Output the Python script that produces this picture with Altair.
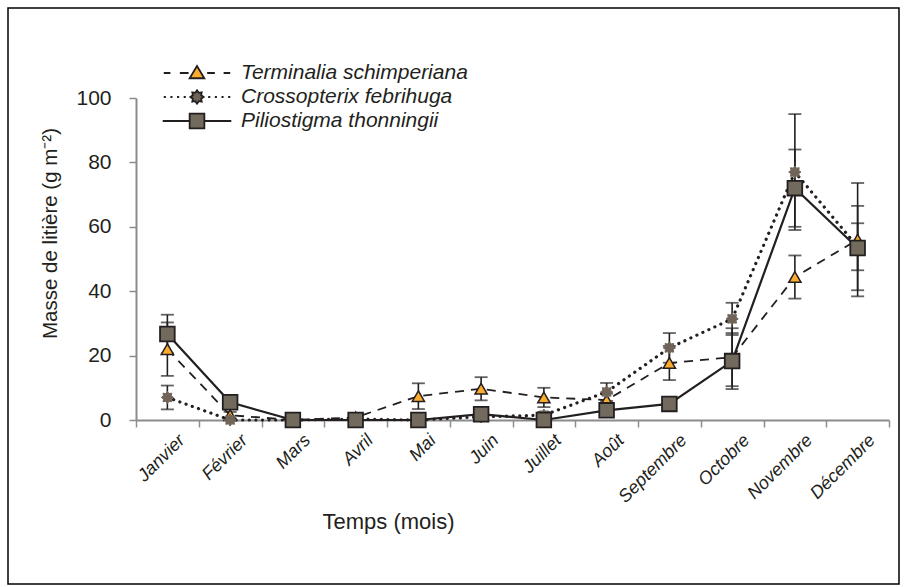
import altair as alt
import pandas as pd

months = ["Janvier", "Février", "Mars", "Avril", "Mai", "Juin", "Juillet",
          "Août", "Septembre", "Octobre", "Novembre", "Décembre"]
series = ["Terminalia schimperiana", "Crossopterix febrihuga", "Piliostigma thonningii"]

term = [22, 1.5, 0, 0.8, 7.4, 9.7, 7, 6.2, 17.7, 19.5, 44.4, 56]
term_err = [8.3, 1, 0, 0.5, 4, 3.6, 3, 2, 5.3, 9, 6.7, 17.6]
cross = [7, 0, 0, 0.3, 0, 1, 1.5, 8.7, 22.4, 31.4, 77, 53.8]
cross_err = [3.7, 0, 0, 0.3, 0, 0.5, 1, 2.8, 4.6, 5, 18, 7.3]
pilio = [26.7, 5.5, 0, 0, 0, 1.8, 0, 3, 5, 18.3, 72, 53.4]
pilio_err = [6, 0, 0, 0, 0, 0.5, 0, 0.5, 0, 8.7, 12, 13.1]

rows = []
for name, vals, errs in zip(series, [term, cross, pilio], [term_err, cross_err, pilio_err]):
    for m, v, e in zip(months, vals, errs):
        rows.append({"month": m, "series": name, "value": v, "err": e,
                     "lo": v - e, "hi": v + e})
df = pd.DataFrame(rows)

FONT = "Liberation Sans"
TXT = "#231f20"
GREY = "#8c8c8c"
ORANGE = "#fbac2e"
BROWN = "#6f6457"
SQUARE = "#736a5e"

W, H = 753, 322
LEFT, TOP = 136, 98


def star(scale, inner=0.68):
    import math
    pts = []
    for k in range(16):
        r = 1.0 if k % 2 == 0 else inner
        a = math.radians(k * 22.5)
        pts.append((r * math.sin(a) * scale, -r * math.cos(a) * scale))
    return "M" + " L".join(f"{x:.3f},{y:.3f}" for x, y in pts) + " Z"


STAR = star(1.0)

# legend glyphs (line + marker), unit = 35 px
leg_term = ("M-0.95,0H-0.76 M-0.49,0H-0.24 M0.29,0H0.51 M0.76,0H0.95 "
            "M0,-0.2 L0.21,0.15 L-0.21,0.15 Z")
dots_x = [-0.95, -0.76, -0.57, -0.38, 0.32, 0.51, 0.70, 0.89]
leg_cross = " ".join(f"M{x:.2f},0H{x + 0.06:.2f}" for x in dots_x) + " " + star(0.19)
leg_pilio = "M-0.98,0H-0.21 M0.21,0H0.98 M-0.21,-0.21H0.21V0.21H-0.21Z"

x_enc = alt.X("month:N", sort=months,
              scale=alt.Scale(domain=months, paddingInner=0, paddingOuter=0),
              axis=alt.Axis(title="Temps (mois)", labelAngle=-45, labelFontStyle="italic",
                            labelFont=FONT, labelFontSize=18, labelColor=TXT,
                            labelPadding=4, labelOffset=8,
                            tickBand="extent", tickSize=7, tickColor=GREY, tickWidth=1.5,
                            domainColor=GREY, domainWidth=2,
                            titleFont=FONT, titleFontSize=22, titleFontWeight="normal",
                            titleColor=TXT, titleX=252, titleY=101, titleBaseline="middle"))
y_enc = alt.Y("value:Q", scale=alt.Scale(domain=[0, 100], nice=False),
              axis=alt.Axis(title="Masse de litière (g m⁻²)", values=[0, 20, 40, 60, 80, 100],
                            grid=False, tickSize=7, tickColor=GREY, tickWidth=1.5,
                            domainColor=GREY, domainWidth=2,
                            labelFont=FONT, labelFontSize=21, labelColor=TXT, labelPadding=18,
                            titleFont=FONT, titleFontSize=20.5, titleFontWeight="normal",
                            titleColor=TXT, titleX=-86, titleY=135, titleBaseline="middle"))

base = alt.Chart(df)

line_styles = {
    series[0]: dict(strokeDash=[9, 7], strokeWidth=1.8),
    series[1]: dict(strokeDash=[0.1, 6.5], strokeWidth=3.2, strokeCap="round"),
    series[2]: dict(strokeWidth=2.2),
}

layers = []
for s in series:
    layers.append(base.transform_filter(alt.datum.series == s)
                  .mark_line(color=TXT, **line_styles[s])
                  .encode(x=x_enc, y=y_enc))

for s in series:
    eb = base.transform_filter((alt.datum.series == s) & (alt.datum.err > 0))
    layers.append(eb.mark_rule(color=TXT, strokeWidth=1.6)
                  .encode(x=x_enc, y="lo:Q", y2="hi:Q"))
    layers.append(eb.mark_tick(color=TXT, size=13, thickness=1.8, orient="horizontal")
                  .encode(x=x_enc, y="lo:Q"))
    layers.append(eb.mark_tick(color=TXT, size=13, thickness=1.8, orient="horizontal")
                  .encode(x=x_enc, y="hi:Q"))

marker = {
    series[0]: dict(shape="triangle-up", size=150, fill=ORANGE, stroke=TXT, strokeWidth=1.5),
    series[1]: dict(shape=STAR, size=150, fill=BROWN, stroke=BROWN, strokeWidth=1),
    series[2]: dict(shape="square", size=215, fill=SQUARE, stroke=TXT, strokeWidth=1.8),
}
for s in series:
    layers.append(base.transform_filter(alt.datum.series == s)
                  .mark_point(filled=True, opacity=1, **marker[s])
                  .encode(x=x_enc, y=y_enc))


def make_legend():
    return alt.Legend(title=None, orient="none", legendX=25, legendY=-37,
                      symbolSize=4900, clipHeight=24, rowPadding=0,
                      padding=0, labelOffset=8, symbolOpacity=1,
                      symbolStrokeWidth=1.8,
                      labelFont=FONT, labelFontSize=21,
                      labelFontStyle="italic", labelColor=TXT,
                      labelLimit=400)


legend_layer = (base.transform_filter("false")
                .mark_point(filled=True, opacity=1, strokeWidth=1.8)
                .encode(
                    x=x_enc, y=y_enc,
                    shape=alt.Shape("series:N",
                                    scale=alt.Scale(domain=series, range=[leg_term, leg_cross, leg_pilio]),
                                    legend=make_legend()),
                    fill=alt.Fill("series:N",
                                  scale=alt.Scale(domain=series, range=[ORANGE, BROWN, SQUARE]),
                                  legend=make_legend()),
                    stroke=alt.Stroke("series:N",
                                      scale=alt.Scale(domain=series, range=[TXT, TXT, TXT]),
                                      legend=make_legend()),
                ))
layers.append(legend_layer)

frame = alt.Chart(pd.DataFrame({"k": [0]})).mark_rect(
    fill=None, stroke="#000000", strokeWidth=1.5).encode(
    x=alt.value(8 - LEFT), x2=alt.value(899 - LEFT),
    y=alt.value(8 - TOP), y2=alt.value(584 - TOP))
layers.append(frame)

chart = alt.layer(*layers).properties(
    width=W, height=H,
    autosize=alt.AutoSizeParams(type="none"),
    padding={"left": LEFT, "top": TOP, "right": 904 - LEFT - W, "bottom": 587 - TOP - H},
    background="white",
).configure_view(stroke=None)

chart.save("out.html", embed_options={"renderer": "svg", "actions": False})
